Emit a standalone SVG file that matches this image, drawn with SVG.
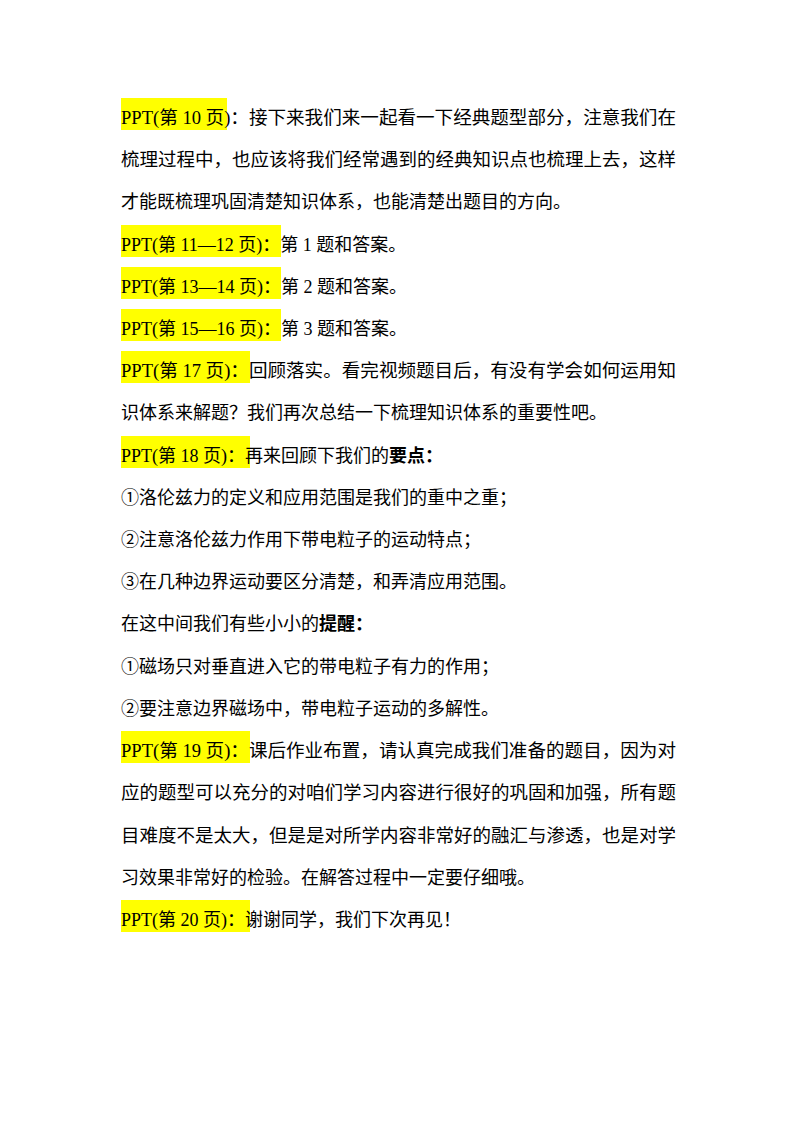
<svg xmlns="http://www.w3.org/2000/svg" width="800" height="1132" viewBox="0 0 800 1132">
<style>
text{font-family:"Liberation Serif","Noto Sans CJK SC",serif;font-size:18px;fill:#000}
.h{fill:#ffff00}
</style>
<rect width="800" height="1132" fill="#fff"/>
<g id="highlights">
<rect class="h" x="121" y="98" width="106" height="32"/>
<rect class="h" x="121" y="225" width="160" height="32"/>
<rect class="h" x="121" y="267" width="160" height="32"/>
<rect class="h" x="121" y="309" width="160" height="32"/>
<rect class="h" x="121" y="351" width="129" height="32"/>
<rect class="h" x="121" y="436" width="129" height="32"/>
<rect class="h" x="121" y="731" width="129" height="32"/>
<rect class="h" x="121" y="900" width="129" height="32"/>
</g>
<g id="text">
<text x="121" y="124" textLength="555" lengthAdjust="spacingAndGlyphs">PPT(第 10 页)：接下来我们来一起看一下经典题型部分，注意我们在</text>
<text x="121" y="166" textLength="555" lengthAdjust="spacingAndGlyphs">梳理过程中，也应该将我们经常遇到的经典知识点也梳理上去，这样</text>
<text x="121" y="208">才能既梳理巩固清楚知识体系，也能清楚出题目的方向。</text>
<text x="121" y="251">PPT(第 11—12 页)：第 1 题和答案。</text>
<text x="121" y="293">PPT(第 13—14 页)：第 2 题和答案。</text>
<text x="121" y="335">PPT(第 15—16 页)：第 3 题和答案。</text>
<text x="121" y="377" textLength="555" lengthAdjust="spacingAndGlyphs">PPT(第 17 页)：回顾落实。看完视频题目后，有没有学会如何运用知</text>
<text x="121" y="419">识体系来解题？我们再次总结一下梳理知识体系的重要性吧。</text>
<text x="121" y="462">PPT(第 18 页)：再来回顾下我们的<tspan font-weight="bold">要点：</tspan></text>
<text x="121" y="504">①洛伦兹力的定义和应用范围是我们的重中之重；</text>
<text x="121" y="546">②注意洛伦兹力作用下带电粒子的运动特点；</text>
<text x="121" y="588">③在几种边界运动要区分清楚，和弄清应用范围。</text>
<text x="121" y="630">在这中间我们有些小小的<tspan font-weight="bold">提醒：</tspan></text>
<text x="121" y="673">①磁场只对垂直进入它的带电粒子有力的作用；</text>
<text x="121" y="715">②要注意边界磁场中，带电粒子运动的多解性。</text>
<text x="121" y="757" textLength="555" lengthAdjust="spacingAndGlyphs">PPT(第 19 页)：课后作业布置，请认真完成我们准备的题目，因为对</text>
<text x="121" y="799" textLength="555" lengthAdjust="spacingAndGlyphs">应的题型可以充分的对咱们学习内容进行很好的巩固和加强，所有题</text>
<text x="121" y="842" textLength="555" lengthAdjust="spacingAndGlyphs">目难度不是太大，但是是对所学内容非常好的融汇与渗透，也是对学</text>
<text x="121" y="884">习效果非常好的检验。在解答过程中一定要仔细哦。</text>
<text x="121" y="926">PPT(第 20 页)：谢谢同学，我们下次再见！</text>
</g>
</svg>
